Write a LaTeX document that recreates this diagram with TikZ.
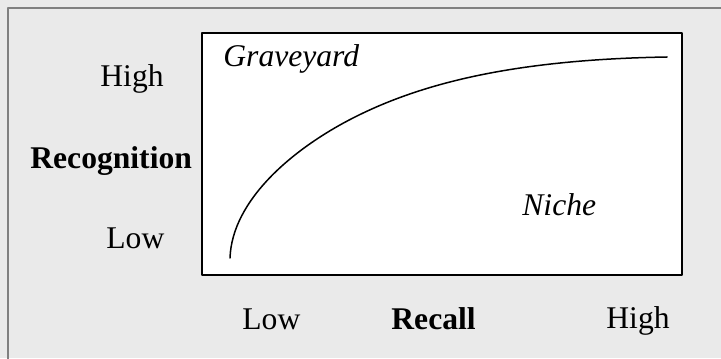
\documentclass[tikz,border=0pt]{standalone}
\usepackage{fontspec}
\setmainfont{Liberation Serif}
\usepackage{xcolor}
\definecolor{panelgray}{HTML}{EAEAEA}
\definecolor{framegray}{HTML}{808080}
\tikzset{
  lbl/.style={anchor=base west,inner sep=0pt,font=\fontsize{15.8}{19}\selectfont},
}
\begin{document}
\begin{tikzpicture}[x=0.5pt,y=-0.5pt,line join=round]
  \useasboundingbox (0,0) rectangle (721,358);
  % panel
  \fill[panelgray] (0,0) rectangle (721,358);
  \draw[framegray,line width=1pt] (8,8) rectangle (740,380);
  % chart box
  \coordinate (BL) at (202,275);
  \coordinate (TR) at (682,33);
  \draw[fill=white,line width=0.8pt] (BL) rectangle (TR);
  % curve
  \coordinate (C0) at (230,258);
  \coordinate (C1) at (353,118);
  \coordinate (C2) at (667,57);
  \draw[line width=0.75pt,line cap=round] (C0) .. controls (232,200) and (293,148.6) .. (C1)
    .. controls (423,82.3) and (517,59.5) .. (C2);
  % labels
  \node[lbl] (yhigh) at (100,87) {High};
  \node[lbl,font=\fontsize{15.8}{19}\selectfont\bfseries] (ytitle) at (30,168) {Recognition};
  \node[lbl] (ylow) at (106,248) {Low};
  \node[lbl] (xlow) at (242,329) {Low};
  \node[lbl,font=\fontsize{15.8}{19}\selectfont\bfseries] (xtitle) at (391,329) {Recall};
  \node[lbl] (xhigh) at (606,328) {High};
  \node[lbl,font=\fontsize{15.8}{19}\selectfont\itshape] (grave) at (223,67) {Graveyard};
  \node[lbl,font=\fontsize{15.8}{19}\selectfont\itshape] (niche) at (522,215) {Niche};
\end{tikzpicture}
\end{document}
